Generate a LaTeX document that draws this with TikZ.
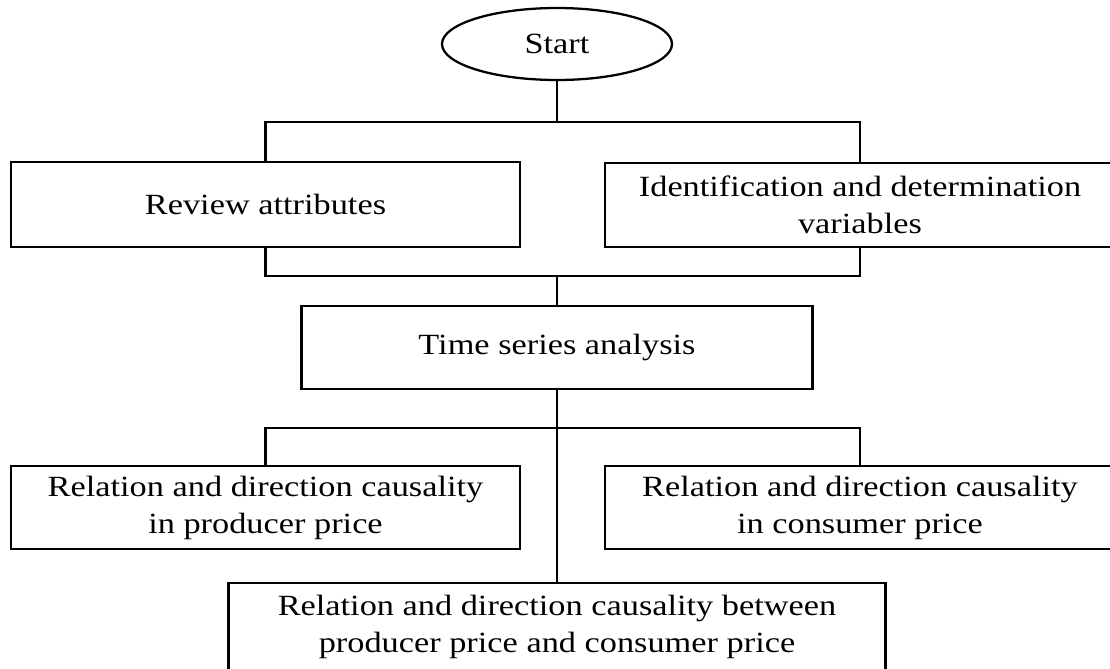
\documentclass[tikz,border=0pt]{standalone}
\usepackage{fontspec}
\setmainfont{Liberation Serif}[FakeStretch=1.17]
\usetikzlibrary{shapes.geometric}
\tikzset{
  every node/.style={font=\fontsize{22}{27.75}\selectfont, align=center, inner sep=0pt},
  link/.style={line width=1.9pt},
  stepbox/.style={draw, line width=1.9pt, rectangle, minimum width=#1},
  stepbox/.default=381.75pt,
  startshape/.style={draw, line width=1.7pt, ellipse, minimum width=172.5pt, minimum height=54pt}
}
\begin{document}
\begin{tikzpicture}[x=0.75pt,y=-0.75pt]
\useasboundingbox (0,0) rectangle (1110,668);
\clip (0,0) rectangle (1110,668);
\node[startshape] (start) at (557,44) {Start};
\node[stepbox=381.75pt, minimum height=63.75pt] (review) at (265.5,204.5) {Review attributes};
\node[stepbox=382.5pt, minimum height=63pt] (ident) at (860,205) {Identification and determination\\variables};
\node[stepbox=383.25pt, minimum height=62.25pt] (time) at (557,347.5) {Time series analysis};
\node[stepbox=381.75pt, minimum height=62.25pt] (prod) at (265.5,507.5) {Relation and direction causality\\in producer price};
\node[stepbox=382.5pt, minimum height=62.25pt] (cons) at (860,507.5) {Relation and direction causality\\in consumer price};
\node[stepbox=492.75pt, minimum height=66pt] (between) at (557,627) {Relation and direction causality between\\producer price and consumer price};
\coordinate (j1) at (557,122);
\coordinate (j2) at (557,276);
\coordinate (j3) at (557,428);
\draw[link] (start.south) -- (j1);
\draw[link] (review.north) |- (j1) -| (ident.north);
\draw[link] (review.south) |- (j2) -| (ident.south);
\draw[link] (j2) -- (time.north);
\draw[link] (time.south) -- (between.north);
\draw[link] (prod.north) |- (j3) -| (cons.north);
\end{tikzpicture}
\end{document}
